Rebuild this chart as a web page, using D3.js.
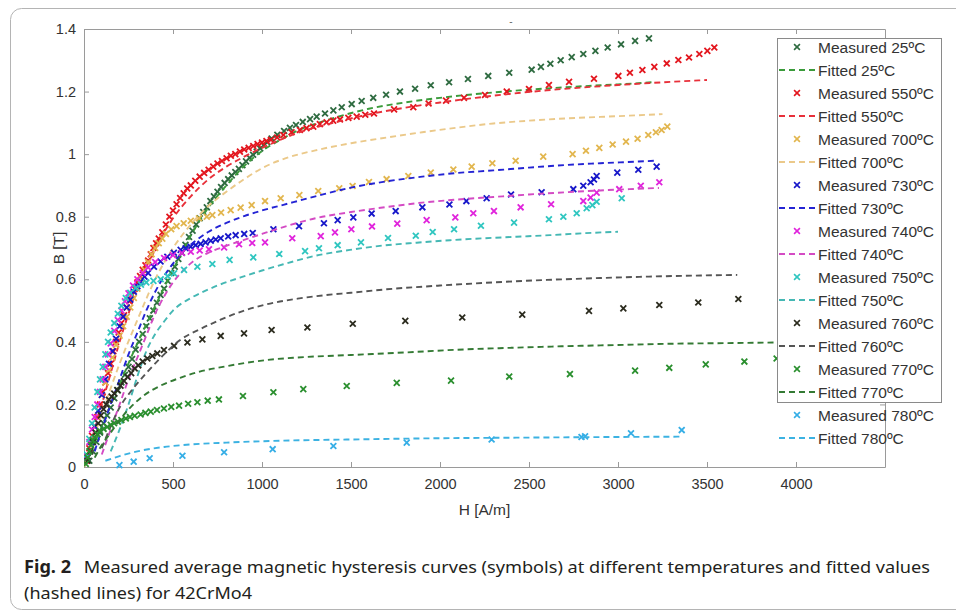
<!DOCTYPE html>
<html>
<head>
<meta charset="utf-8">
<script src="https://cdn.jsdelivr.net/npm/d3@7"></script>
<style>
  body { margin: 0; background: #fff; }
  text { font-family: "Liberation Sans", Arial, sans-serif; }
</style>
</head>
<body>
<div id="chart"></div>
<script>
// axis ticks
const xTicks = [0, 500, 1000, 1500, 2000, 2500, 3000, 3500, 4000];
const yTicks = [0, 0.2, 0.4, 0.6, 0.8, 1, 1.2, 1.4];

// [H (A/m), B (T)]
const m25 = [[30,0.02],[50,0.05],[70,0.08],[90,0.11],[110,0.14],[130,0.165],[150,0.19],[170,0.22],[190,0.245],[210,0.27],[230,0.295],[250,0.32],[270,0.345],[290,0.375],[310,0.4],[330,0.425],[350,0.45],[370,0.475],[390,0.5],[410,0.525],[430,0.55],[450,0.57],[470,0.595],[490,0.62],[510,0.64],[530,0.665],[550,0.685],[570,0.71],[590,0.735],[610,0.755],[630,0.775],[650,0.795],[670,0.815],[690,0.83],[710,0.85],[730,0.865],[750,0.88],[770,0.895],[790,0.908],[810,0.92],[830,0.932],[850,0.943],[870,0.953],[890,0.965],[910,0.977],[930,0.988],[950,0.998],[970,1.008],[990,1.018],[1010,1.028],[1030,1.038],[1054,1.05],[1086,1.062],[1124,1.074],[1157,1.084],[1191,1.093],[1229,1.103],[1270,1.112],[1307,1.12],[1354,1.13],[1401,1.14],[1448,1.15],[1504,1.16],[1560,1.17],[1625,1.18],[1697,1.19],[1775,1.2],[1860,1.209],[1948,1.22],[2051,1.23],[2157,1.24],[2271,1.25],[2389,1.26],[2515,1.27],[2567,1.279],[2620,1.289],[2678,1.3],[2740,1.31],[2805,1.32],[2873,1.33],[2942,1.341],[3017,1.351],[3096,1.362],[3174,1.37]];
const f25 = [[0,0],[100,0.13],[200,0.265],[300,0.395],[400,0.515],[500,0.63],[600,0.74],[700,0.83],[800,0.9],[900,0.962],[1000,1.01],[1100,1.045],[1200,1.075],[1400,1.115],[1600,1.145],[1800,1.165],[2000,1.18],[2200,1.192],[2400,1.202],[2600,1.21],[2800,1.217],[3000,1.223],[3200,1.23]];
const m550 = [[15,0.02],[30,0.06],[45,0.1],[60,0.13],[75,0.16],[90,0.2],[105,0.24],[120,0.27],[135,0.3],[150,0.33],[165,0.37],[180,0.4],[195,0.43],[210,0.46],[225,0.485],[240,0.51],[255,0.53],[270,0.55],[285,0.57],[300,0.59],[315,0.61],[330,0.63],[345,0.645],[360,0.66],[375,0.68],[390,0.7],[405,0.715],[420,0.73],[440,0.75],[460,0.775],[480,0.8],[500,0.82],[520,0.84],[540,0.86],[560,0.875],[580,0.89],[600,0.9],[625,0.915],[650,0.928],[675,0.94],[700,0.95],[726,0.96],[750,0.97],[775,0.978],[801,0.987],[825,0.995],[850,1.0],[876,1.008],[900,1.015],[925,1.02],[951,1.026],[975,1.032],[1000,1.037],[1025,1.042],[1050,1.046],[1085,1.053],[1120,1.061],[1166,1.07],[1213,1.077],[1250,1.083],[1288,1.088],[1325,1.096],[1363,1.102],[1400,1.107],[1438,1.111],[1485,1.116],[1532,1.12],[1580,1.126],[1629,1.13],[1742,1.143],[1850,1.15],[1936,1.162],[2034,1.171],[2135,1.18],[2253,1.189],[2375,1.2],[2500,1.208],[2612,1.221],[2725,1.231],[2865,1.241],[3002,1.25],[3067,1.26],[3137,1.269],[3204,1.279],[3274,1.29],[3339,1.301],[3399,1.309],[3457,1.32],[3502,1.33],[3541,1.341]];
const f550 = [[0,0],[50,0.1],[100,0.2],[150,0.3],[200,0.4],[250,0.49],[300,0.575],[350,0.64],[400,0.695],[450,0.75],[500,0.795],[600,0.865],[700,0.92],[800,0.96],[900,0.992],[1000,1.02],[1100,1.045],[1200,1.068],[1400,1.1],[1600,1.127],[1800,1.148],[2000,1.165],[2200,1.18],[2400,1.193],[2600,1.204],[2800,1.213],[3000,1.221],[3200,1.228],[3500,1.237]];
const m700 = [[20,0.03],[40,0.08],[60,0.13],[80,0.18],[100,0.23],[120,0.27],[140,0.31],[160,0.35],[180,0.39],[200,0.42],[220,0.45],[240,0.48],[260,0.51],[280,0.54],[300,0.57],[320,0.6],[340,0.63],[360,0.655],[380,0.68],[400,0.7],[420,0.715],[440,0.73],[460,0.745],[490,0.76],[520,0.77],[560,0.779],[600,0.787],[646,0.795],[690,0.8],[721,0.805],[770,0.813],[824,0.821],[880,0.829],[942,0.837],[1017,0.85],[1105,0.859],[1210,0.869],[1316,0.882],[1434,0.891],[1509,0.898],[1601,0.911],[1700,0.92],[1822,0.93],[1948,0.941],[2075,0.951],[2178,0.96],[2294,0.971],[2425,0.979],[2580,0.992],[2745,1.0],[2820,1.011],[2895,1.02],[2970,1.031],[3045,1.04],[3110,1.049],[3170,1.061],[3213,1.07],[3245,1.077],[3277,1.088]];
const f700 = [[0,0],[100,0.17],[200,0.33],[300,0.47],[400,0.6],[500,0.7],[600,0.775],[700,0.835],[800,0.88],[900,0.92],[1000,0.955],[1150,0.99],[1300,1.012],[1500,1.035],[1700,1.053],[1900,1.07],[2100,1.085],[2300,1.098],[2500,1.107],[2700,1.114],[2900,1.119],[3100,1.124],[3250,1.128]];
const m730 = [[20,0.03],[40,0.08],[60,0.13],[80,0.18],[100,0.23],[120,0.28],[140,0.33],[160,0.37],[180,0.41],[200,0.45],[220,0.48],[240,0.51],[260,0.535],[280,0.56],[300,0.578],[318,0.592],[340,0.608],[360,0.62],[393,0.64],[430,0.657],[468,0.672],[505,0.685],[543,0.694],[571,0.699],[599,0.704],[627,0.709],[655,0.713],[683,0.718],[712,0.723],[740,0.727],[768,0.731],[810,0.737],[852,0.741],[900,0.745],[948,0.748],[1064,0.76],[1208,0.77],[1348,0.779],[1425,0.789],[1513,0.798],[1616,0.81],[1751,0.818],[1901,0.83],[2053,0.839],[2148,0.85],[2262,0.859],[2399,0.871],[2571,0.878],[2749,0.888],[2805,0.899],[2846,0.91],[2865,0.919],[2880,0.93],[2996,0.941],[3114,0.95],[3217,0.96]];
const f730 = [[60,0.05],[100,0.12],[150,0.2],[200,0.28],[250,0.36],[300,0.43],[350,0.5],[400,0.56],[450,0.61],[500,0.65],[560,0.69],[620,0.72],[700,0.752],[800,0.78],[900,0.802],[1000,0.82],[1120,0.838],[1300,0.865],[1500,0.893],[1700,0.913],[1900,0.928],[2100,0.94],[2300,0.948],[2500,0.957],[2700,0.965],[2900,0.971],[3100,0.976],[3210,0.979]];
const m740 = [[15,0.035],[30,0.08],[45,0.12],[60,0.16],[75,0.2],[90,0.24],[105,0.28],[120,0.32],[135,0.36],[150,0.395],[170,0.435],[190,0.47],[210,0.5],[230,0.53],[250,0.555],[275,0.58],[300,0.6],[330,0.62],[360,0.638],[400,0.655],[450,0.668],[500,0.677],[550,0.684],[600,0.688],[650,0.692],[702,0.696],[787,0.702],[871,0.712],[945,0.716],[1017,0.718],[1170,0.731],[1330,0.738],[1410,0.75],[1502,0.76],[1618,0.769],[1760,0.778],[1925,0.789],[2086,0.798],[2187,0.811],[2303,0.818],[2453,0.83],[2624,0.84],[2805,0.85],[2846,0.861],[2880,0.877],[3007,0.888],[3128,0.899],[3232,0.91]];
const f740 = [[100,0.04],[150,0.12],[200,0.2],[250,0.28],[300,0.35],[350,0.42],[400,0.49],[450,0.545],[500,0.59],[560,0.63],[620,0.66],[700,0.685],[800,0.707],[900,0.726],[1000,0.745],[1120,0.767],[1300,0.795],[1500,0.815],[1700,0.831],[1900,0.845],[2100,0.855],[2300,0.863],[2500,0.871],[2700,0.878],[2900,0.884],[3100,0.889],[3230,0.892]];
const m750 = [[15,0.04],[30,0.09],[45,0.14],[60,0.19],[75,0.24],[90,0.28],[105,0.32],[120,0.36],[135,0.4],[150,0.43],[170,0.46],[190,0.49],[210,0.515],[235,0.54],[260,0.557],[290,0.572],[320,0.583],[350,0.59],[390,0.595],[431,0.6],[470,0.61],[506,0.619],[562,0.63],[637,0.64],[721,0.649],[818,0.662],[951,0.67],[1097,0.681],[1242,0.69],[1320,0.699],[1425,0.709],[1556,0.718],[1708,0.732],[1864,0.739],[1959,0.751],[2079,0.76],[2230,0.771],[2416,0.781],[2612,0.792],[2693,0.8],[2768,0.811],[2824,0.827],[2856,0.837],[2880,0.848],[3021,0.859]];
const f750 = [[150,0.05],[200,0.12],[250,0.2],[300,0.29],[350,0.37],[400,0.425],[450,0.465],[500,0.5],[600,0.54],[680,0.563],[750,0.58],[880,0.606],[1000,0.628],[1120,0.648],[1307,0.676],[1494,0.694],[1682,0.708],[1869,0.717],[2056,0.725],[2243,0.731],[2430,0.736],[2618,0.741],[2800,0.747],[3000,0.752]];
const m760 = [[20,0.02],[35,0.05],[50,0.08],[65,0.11],[80,0.14],[95,0.165],[110,0.185],[125,0.2],[140,0.215],[155,0.225],[170,0.235],[187,0.246],[205,0.26],[225,0.275],[245,0.288],[265,0.3],[285,0.315],[305,0.325],[330,0.337],[356,0.347],[384,0.355],[412,0.363],[449,0.374],[506,0.387],[581,0.398],[665,0.408],[768,0.419],[899,0.427],[1054,0.438],[1255,0.446],[1510,0.458],[1805,0.467],[2125,0.478],[2462,0.487],[2837,0.499],[3030,0.507],[3232,0.518],[3451,0.526],[3676,0.537]];
const f760 = [[100,0.06],[150,0.13],[200,0.19],[275,0.25],[350,0.3],[450,0.36],[540,0.406],[650,0.44],[764,0.47],[900,0.5],[1026,0.52],[1200,0.538],[1350,0.549],[1500,0.557],[1700,0.568],[2000,0.58],[2300,0.59],[2600,0.598],[2900,0.604],[3200,0.609],[3670,0.614]];
const m770 = [[10,0.01],[20,0.03],[30,0.05],[40,0.07],[50,0.085],[60,0.095],[75,0.105],[90,0.115],[110,0.122],[130,0.128],[150,0.135],[169,0.14],[190,0.145],[210,0.15],[235,0.155],[258,0.16],[285,0.164],[318,0.168],[345,0.173],[375,0.177],[410,0.182],[449,0.187],[490,0.192],[534,0.196],[585,0.202],[637,0.207],[695,0.212],[758,0.216],[893,0.227],[1064,0.239],[1232,0.249],[1476,0.259],[1757,0.269],[2062,0.276],[2389,0.289],[2730,0.297],[3096,0.308],[3288,0.317],[3493,0.328],[3710,0.337],[3891,0.347]];
const f770 = [[60,0.03],[100,0.07],[150,0.11],[200,0.15],[260,0.19],[340,0.23],[430,0.26],[540,0.285],[650,0.305],[780,0.32],[900,0.332],[1026,0.342],[1200,0.35],[1500,0.358],[1800,0.366],[2100,0.375],[2400,0.381],[2700,0.386],[3000,0.39],[3300,0.394],[3600,0.396],[3900,0.398]];
const m780 = [[199,0.006],[279,0.017],[369,0.028],[553,0.036],[787,0.047],[1060,0.057],[1401,0.067],[1813,0.078],[2290,0.088],[2795,0.096],[2815,0.098],[3073,0.108],[3358,0.118]];
const f780 = [[120,0.02],[200,0.035],[300,0.05],[450,0.064],[600,0.072],[800,0.078],[1100,0.084],[1500,0.088],[2000,0.092],[2500,0.094],[3000,0.096],[3350,0.097]];

const seriesNames = ["Measured 25ºC","Fitted 25ºC","Measured 550ºC","Fitted 550ºC","Measured 700ºC","Fitted 700ºC",
  "Measured 730ºC","Fitted 730ºC","Measured 740ºC","Fitted 740ºC","Measured 750ºC","Fitted 750ºC",
  "Measured 760ºC","Fitted 760ºC","Measured 770ºC","Fitted 770ºC","Measured 780ºC","Fitted 780ºC"];
const seriesData = [m25, f25, m550, f550, m700, f700, m730, f730, m740, f740, m750, f750, m760, f760, m770, f770, m780, f780];
const seriesColors = ["#2e6b40","#3b9b3b","#e3161e","#e8303a","#e2b64e","#ebc98a",
  "#1717c9","#2424d4","#e024dc","#d44bc4","#2fc6c0","#45b8b4",
  "#2b2b1e","#555555","#2a8f2e","#347a34","#35aee6","#3cb2e2"];

const series = seriesNames.map((name, i) => ({
  name: name,
  measured: name.startsWith("Measured"),
  color: seriesColors[i],
  data: seriesData[i]
}));

const width = 956, height = 613;
const margin = { top: 29, right: 71, bottom: 146, left: 84 };

const svg = d3.select("#chart").append("svg")
  .attr("width", width)
  .attr("height", height);

// figure frame
svg.append("rect")
  .attr("x", 10.5).attr("y", 8.5)
  .attr("width", 980).attr("height", 601)
  .attr("rx", 11)
  .attr("fill", "none")
  .attr("stroke", "#b4b4b4");

let x = d3.scaleLinear().domain([0, 4500]).range([margin.left, width - margin.right]);
let y = d3.scaleLinear().domain([0, 1.4]).range([height - margin.bottom, margin.top]);

const axisColor = "#9a9a9a";

svg.append("defs").append("clipPath").attr("id", "plot")
  .append("rect")
  .attr("x", x(0)).attr("y", y(1.4) - 4)
  .attr("width", x(4500) - x(0)).attr("height", y(0) - y(1.4) + 8);

// axes (ticks inward, box on all sides)
const gx = svg.append("g")
  .attr("transform", "translate(0," + y(0) + ")")
  .call(d3.axisBottom(x).tickValues(xTicks).tickSize(-5).tickSizeOuter(0).tickPadding(12).tickFormat(d3.format("d")));
const gxt = svg.append("g")
  .attr("transform", "translate(0," + y(1.4) + ")")
  .call(d3.axisTop(x).tickValues(xTicks).tickSize(-5).tickSizeOuter(0).tickFormat(""));
const gy = svg.append("g")
  .attr("transform", "translate(" + x(0) + ",0)")
  .call(d3.axisLeft(y).tickValues(yTicks).tickSize(-5).tickSizeOuter(0).tickPadding(8).tickFormat(d => d));
const gyr = svg.append("g")
  .attr("transform", "translate(" + x(4500) + ",0)")
  .call(d3.axisRight(y).tickValues(yTicks).tickSize(-5).tickSizeOuter(0).tickFormat(""));

[gx, gxt, gy, gyr].forEach(g => {
  g.selectAll(".domain").attr("stroke", axisColor);
  g.selectAll(".tick line").attr("stroke", axisColor);
  g.selectAll(".tick text")
    .attr("fill", "#333")
    .style("font-size", "14.5px")
    .style("font-family", "'Liberation Sans', Arial, sans-serif");
});

// axis labels
svg.append("text")
  .attr("x", (x(0) + x(4500)) / 2)
  .attr("y", 515)
  .attr("text-anchor", "middle")
  .attr("fill", "#333")
  .style("font-size", "15.5px")
  .text("H [A/m]");

svg.append("text")
  .attr("transform", "translate(64," + ((y(0) + y(1.4)) / 2) + ") rotate(-90)")
  .attr("text-anchor", "middle")
  .attr("fill", "#333")
  .style("font-size", "15.5px")
  .text("B [T]");

// stray mark above the axes (empty title)
svg.append("text")
  .attr("x", 511).attr("y", 25)
  .attr("text-anchor", "middle")
  .attr("fill", "#666")
  .style("font-size", "10px")
  .text("-");

// data
const plot = svg.append("g").attr("clip-path", "url(#plot)");
const line = d3.line()
  .x(d => x(d[0]))
  .y(d => y(d[1]))
  .curve(d3.curveMonotoneX);
const cross = d3.symbol().type(d3.symbolX).size(24);

series.forEach(s => {
  if (s.measured) {
    plot.append("g")
      .selectAll("path")
      .data(s.data)
      .enter()
      .append("path")
      .attr("d", cross)
      .attr("transform", d => "translate(" + x(d[0]) + "," + y(d[1]) + ")")
      .attr("fill", "none")
      .attr("stroke", s.color)
      .attr("stroke-width", 1.8);
  } else {
    plot.append("path")
      .datum(s.data)
      .attr("d", line)
      .attr("fill", "none")
      .attr("stroke", s.color)
      .attr("stroke-width", 1.9)
      .attr("stroke-dasharray", "6,4");
  }
});

// legend
const legend = svg.append("g").attr("transform", "translate(777,38)");
legend.append("rect")
  .attr("x", 0.5).attr("y", 0.5)
  .attr("width", 164).attr("height", 364)
  .attr("fill", "#fff")
  .attr("stroke", "#8a8a8a");

const rows = legend.selectAll("g.row")
  .data(series)
  .enter()
  .append("g")
  .attr("class", "row")
  .attr("transform", (d, i) => "translate(0," + (9 + i * 23) + ")");

rows.each(function(s) {
  const g = d3.select(this);
  if (s.measured) {
    g.append("path")
      .attr("d", cross)
      .attr("transform", "translate(20,0)")
      .attr("fill", "none")
      .attr("stroke", s.color)
      .attr("stroke-width", 1.6);
  } else {
    g.append("line")
      .attr("x1", 2).attr("x2", 38)
      .attr("y1", 0).attr("y2", 0)
      .attr("stroke", s.color)
      .attr("stroke-width", 1.8)
      .attr("stroke-dasharray", "6,4");
  }
  g.append("text")
    .attr("x", 41)
    .attr("y", 5.5)
    .attr("fill", "#333")
    .style("font-size", "15.5px")
    .text(s.name);
});

// caption
const cap1 = svg.append("text")
  .attr("x", 24).attr("y", 573)
  .attr("fill", "#231f20")
  .attr("textLength", 906)
  .attr("lengthAdjust", "spacingAndGlyphs")
  .style("font-family", "'Noto Sans', 'Open Sans', sans-serif")
  .style("font-size", "17px");
cap1.append("tspan").attr("font-weight", 700).text("Fig. 2");
cap1.append("tspan").attr("dx", 12)
  .text("Measured average magnetic hysteresis curves (symbols) at different temperatures and fitted values");

svg.append("text")
  .attr("x", 24).attr("y", 599)
  .attr("fill", "#231f20")
  .attr("textLength", 228)
  .attr("lengthAdjust", "spacingAndGlyphs")
  .style("font-family", "'Noto Sans', 'Open Sans', sans-serif")
  .style("font-size", "17px")
  .text("(hashed lines) for 42CrMo4");
</script>
</body>
</html>
